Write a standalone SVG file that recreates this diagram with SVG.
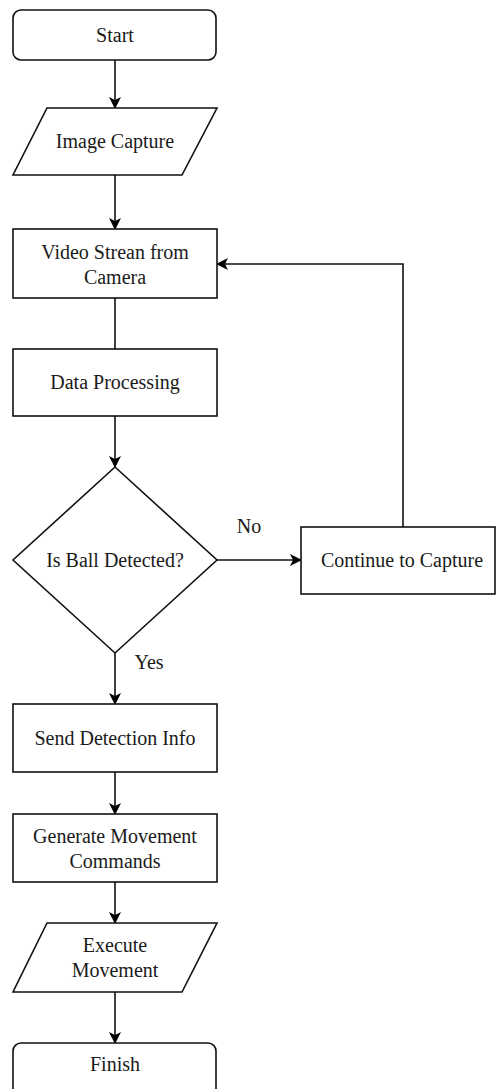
<svg xmlns="http://www.w3.org/2000/svg" width="496" height="1089" viewBox="0 0 496 1089">
<style>
.s{fill:#fff;stroke:#111;stroke-width:1.6}
.t{font-family:'Liberation Serif','Times New Roman','DejaVu Serif',serif;font-size:20px;fill:#1a1a1a;text-anchor:middle}
.c{fill:none;stroke:#111;stroke-width:1.6}
</style>
<defs>
<marker id="a" markerWidth="12" markerHeight="12" refX="11" refY="6" orient="auto" markerUnits="userSpaceOnUse">
<path d="M0,0 L12,6 L0,12 L3,6 Z" fill="#000"/>
</marker>
</defs>
<rect width="496" height="1089" fill="#fff"/>
<g id="connectors">
<path class="c" d="M115,60 V108" marker-end="url(#a)"/>
<path class="c" d="M115,175 V229" marker-end="url(#a)"/>
<path class="c" d="M115,298 V349"/>
<path class="c" d="M115,416 V467" marker-end="url(#a)"/>
<path class="c" d="M217,560 H301" marker-end="url(#a)"/>
<path class="c" d="M403,527 V264 H217" marker-end="url(#a)"/>
<path class="c" d="M115,653 V704" marker-end="url(#a)"/>
<path class="c" d="M115,772 V814" marker-end="url(#a)"/>
<path class="c" d="M115,882 V923" marker-end="url(#a)"/>
<path class="c" d="M115,992 V1043" marker-end="url(#a)"/>
<text class="t" x="249" y="533">No</text>
<text class="t" x="149" y="669">Yes</text>
</g>
<g id="start"><rect class="s" x="13" y="10" width="203" height="50" rx="8"/><text class="t" x="115" y="42">Start</text></g>
<g id="image-capture"><path class="s" d="M47,108 H217 L182,175 H13 Z"/><text class="t" x="115" y="148">Image Capture</text></g>
<g id="video-stream"><rect class="s" x="13" y="229" width="204" height="69"/><text class="t" x="115" y="259">Video Strean from</text><text class="t" x="115" y="284">Camera</text></g>
<g id="data-processing"><rect class="s" x="13" y="349" width="204" height="67"/><text class="t" x="115" y="389">Data Processing</text></g>
<g id="decision"><path class="s" d="M115,467 L217,560 L115,653 L13,560 Z"/><text class="t" x="115" y="567">Is Ball Detected?</text></g>
<g id="continue"><rect class="s" x="301" y="527" width="194" height="67"/><text class="t" x="402" y="567">Continue to Capture</text></g>
<g id="send-detection"><rect class="s" x="13" y="704" width="204" height="68"/><text class="t" x="115" y="745">Send Detection Info</text></g>
<g id="generate"><rect class="s" x="13" y="814" width="204" height="68"/><text class="t" x="115" y="843">Generate Movement</text><text class="t" x="115" y="868">Commands</text></g>
<g id="execute"><path class="s" d="M47,923 H217 L182,992 H13 Z"/><text class="t" x="115" y="952">Execute</text><text class="t" x="115" y="977">Movement</text></g>
<g id="finish"><rect class="s" x="13" y="1043" width="203" height="60" rx="8"/><text class="t" x="115" y="1071">Finish</text></g>
</svg>
